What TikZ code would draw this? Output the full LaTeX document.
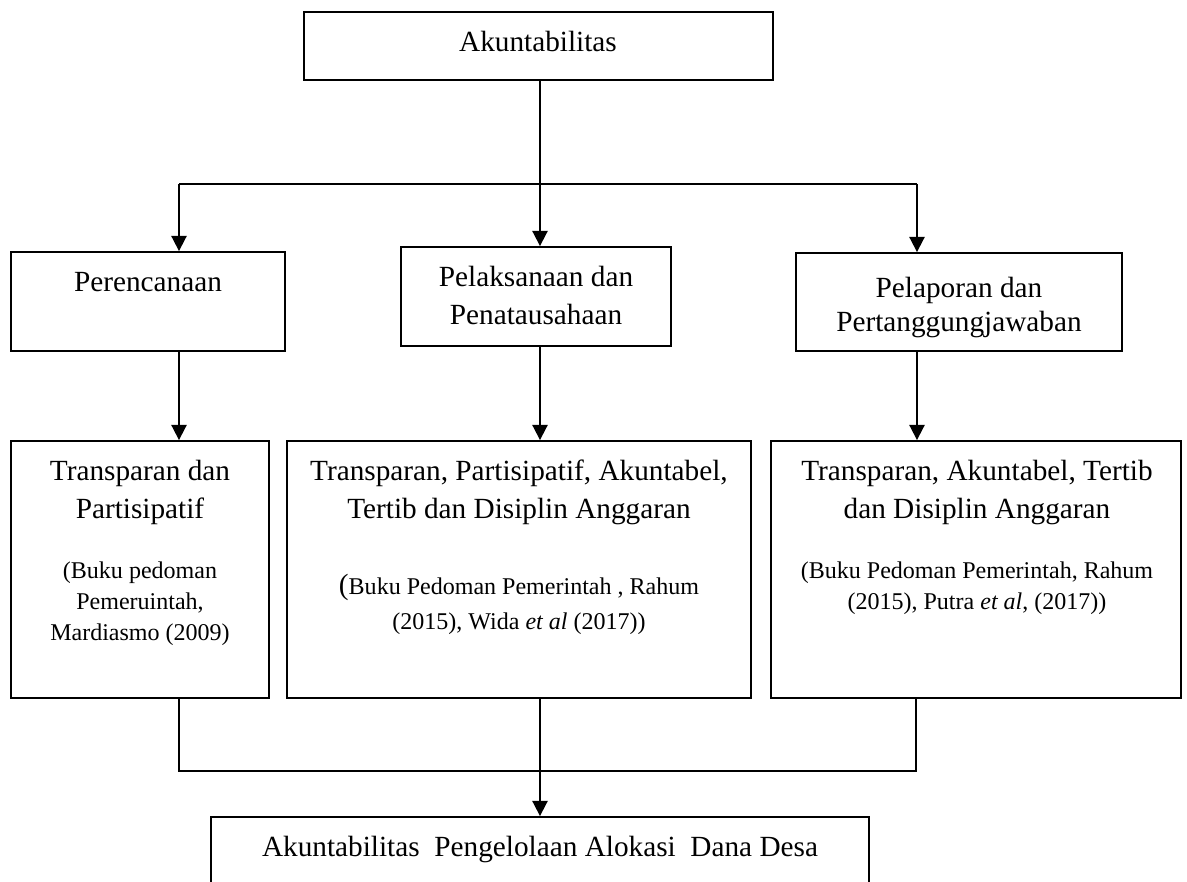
\documentclass[tikz,border=0pt]{standalone}
\usepackage{fontspec}
\setmainfont{Liberation Serif}
\usetikzlibrary{arrows.meta,fit}

\tikzset{
  box/.style={draw,line width=0.75pt,inner sep=0pt},
  big/.style={font=\fontsize{12}{15.6}\selectfont,align=center,inner sep=0pt,anchor=base},
  small/.style={font=\fontsize{9.85}{13}\selectfont,align=center,inner sep=0pt,anchor=base},
  con/.style={line width=0.75pt},
  arr/.style={line width=0.75pt,-{Triangle[width=6.2pt,length=6.2pt]}}
}

\begin{document}
\begin{tikzpicture}[x=0.41pt,y=0.41pt,yscale=-1]
\clip (0,0) rectangle (1187,882);

%Top box
\node[box,fit={(304,12) (773,80)}] (akun) {};
\node[big] (akuntxt) at (538,52) {Akuntabilitas};

%Branch points
\coordinate (cl) at (179,184);
\coordinate (cm) at (540,184);
\coordinate (cr) at (917,184);
\coordinate (jl) at (179,771);
\coordinate (jr) at (916,771);

%Row 1 (base of a two-line node = last line)
\node[box,fit={(11,252) (285,351)}] (ren) {};
\node[box,fit={(401,247) (671,346)}] (lak) {};
\node[box,fit={(796,253) (1122,351)}] (lap) {};
\node[big] (rentxt) at (148,292) {Perencanaan};
\node[big] (laktxt) at (536,325) {Pelaksanaan dan\\Penatausahaan};
\node[big,font=\fontsize{12}{14.2}\selectfont] (laptxt) at (959,332) {Pelaporan dan\\Pertanggungjawaban};

%Row 2
\node[box,fit={(11,441) (269,698)}] (tp) {};
\node[box,fit={(287,441) (751,698)}] (tpa) {};
\node[box,fit={(771,441) (1181,698)}] (tat) {};
\node[big] (tptxt) at (140,519) {Transparan dan\\Partisipatif};
\node[small,font=\fontsize{9.85}{12.9}\selectfont] (tpref) at (140,641) {(Buku pedoman\\Pemeruintah,\\Mardiasmo (2009)};
\node[big] (tpatxt) at (519,519) {Transparan, Partisipatif, Akuntabel,\\Tertib dan Disiplin Anggaran};
\node[small,font=\fontsize{9.85}{14.4}\selectfont] (tparef) at (519,630) {{\fontsize{12}{14.4}\selectfont(}Buku Pedoman Pemerintah , Rahum\\(2015), Wida \textit{et al} (2017))};
\node[big] (tattxt) at (977,519) {Transparan, Akuntabel, Tertib\\dan Disiplin Anggaran};
\node[small] (tatref) at (977,610) {(Buku Pedoman Pemerintah, Rahum\\(2015), Putra \textit{et al}, (2017))};

%Bottom box
\node[box,fit={(211,817) (869,910)}] (aloc) {};
\node[big] (aloctxt) at (540,857) {Akuntabilitas\ \ Pengelolaan Alokasi\ \ Dana Desa};

%Connectors
\draw[arr] (akun.south -| cm) -- (lak.north -| cm);
\draw[con] (cl) -- (cr);
\draw[arr] (cl) -- (ren.north -| cl);
\draw[arr] (cr) -- (lap.north -| cr);
\draw[arr] (ren.south -| cl) -- (tp.north -| cl);
\draw[arr] (lak.south -| cm) -- (tpa.north -| cm);
\draw[arr] (lap.south -| cr) -- (tat.north -| cr);
\draw[con] (tp.south -| jl) -- (jl) -- (jr) -- (tat.south -| jr);
\draw[arr] (tpa.south -| cm) -- (aloc.north -| cm);

\end{tikzpicture}
\end{document}
